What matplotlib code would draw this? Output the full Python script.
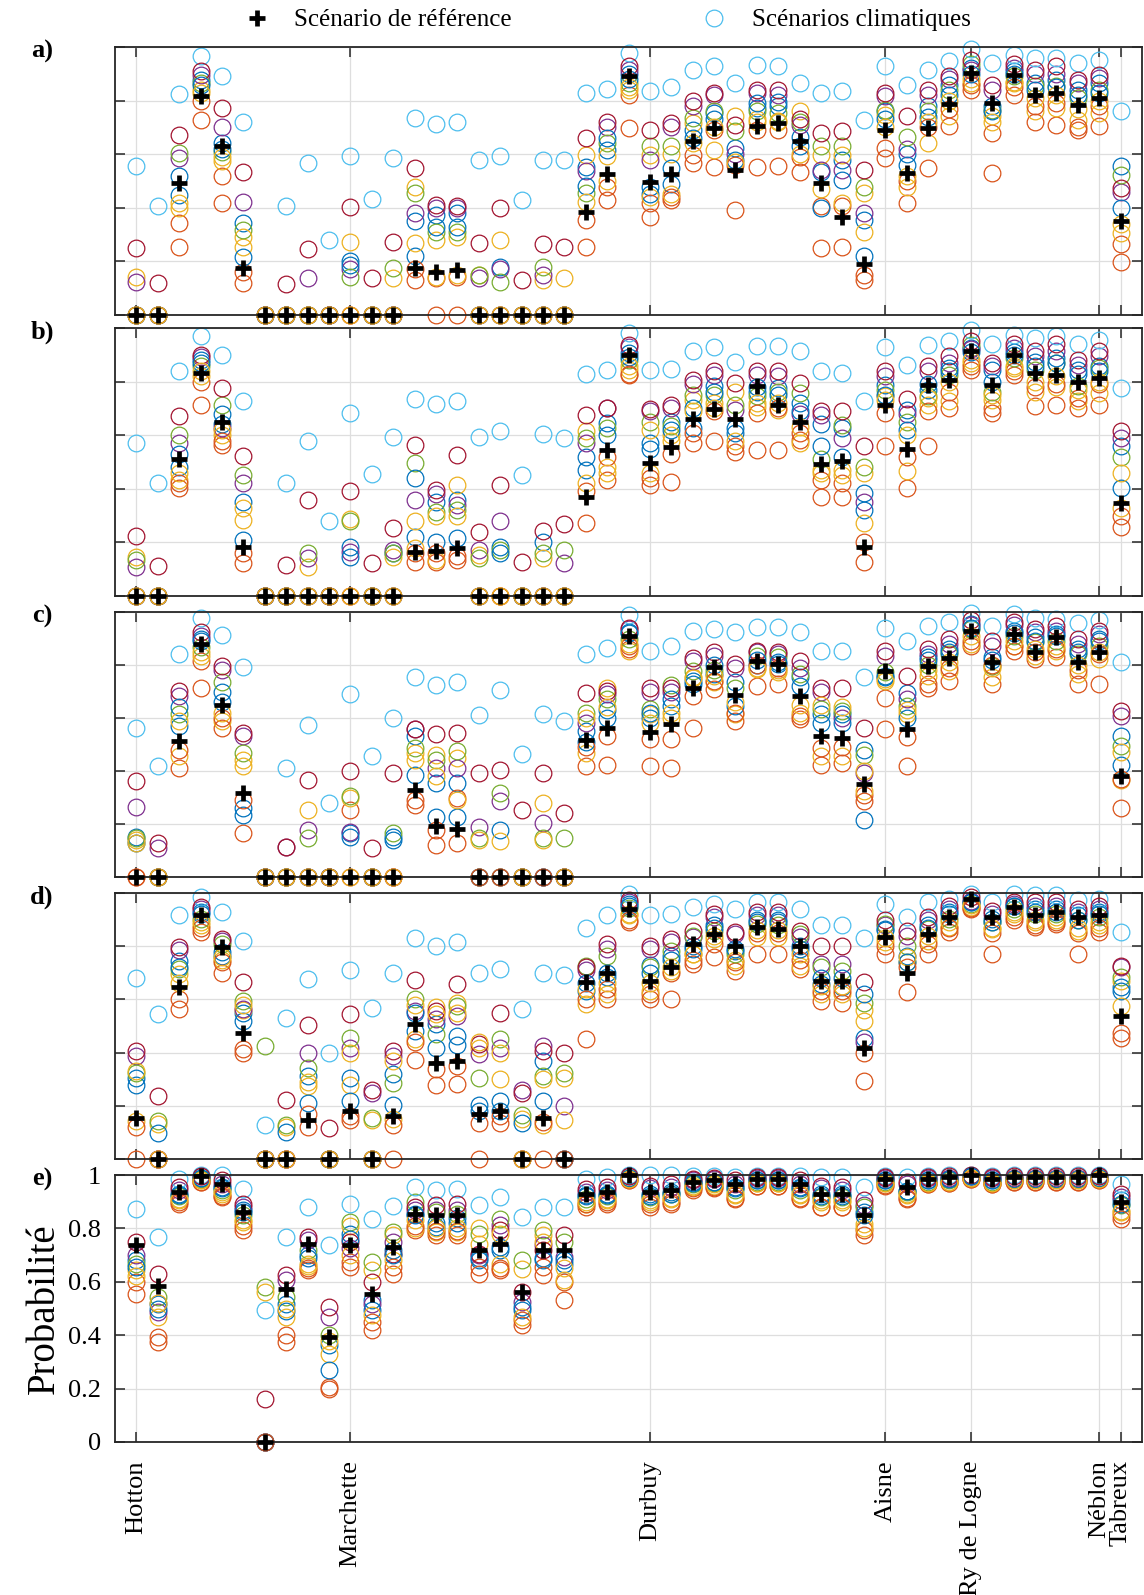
import numpy as np
import matplotlib
matplotlib.use("Agg")
import matplotlib.pyplot as plt
from matplotlib.lines import Line2D

plt.rcParams['font.family'] = ['Liberation Serif', 'DejaVu Serif']

stations = np.arange(1, 48)
tick_pos = [1, 11, 25, 36, 40, 46, 47]
tick_labels = ["Hotton", "Marchette", "Durbuy", "Aisne", "Ry de Logne", "Néblon", "Tabreux"]
yticks = [0, 0.2, 0.4, 0.6, 0.8, 1]
ytick_labels = ["0", "0.2", "0.4", "0.6", "0.8", "1"]
panel_names = ["a)", "b)", "c)", "d)", "e)"]
legend_labels = ["Scénario de référence", "Scénarios climatiques"]
ylabel_text = "Probabilité"

# MATLAB default colour order, cycling for 10 climate scenarios
scen_colors = [(0, 0.447, 0.741), (0.85, 0.325, 0.098), (0.929, 0.694, 0.125),
               (0.494, 0.184, 0.556), (0.466, 0.674, 0.188), (0.301, 0.745, 0.933),
               (0.635, 0.078, 0.184), (0, 0.447, 0.741), (0.85, 0.325, 0.098),
               (0.929, 0.694, 0.125)]

# ---------------- panel a ----------------
ref_a = [0, 0, 0.494, 0.816, 0.631, 0.174, 0, 0, 0, 0, 0, 0, 0, 0.174, 0.159, 0.168, 0, 0, 0, 0, 0,
         0.386, 0.527, 0.89, 0.498, 0.527, 0.651, 0.697, 0.542, 0.706, 0.716, 0.648, 0.494, 0.367,
         0.19, 0.691, 0.529, 0.697, 0.788, 0.903, 0.791, 0.897, 0.822, 0.828, 0.785, 0.81, 0.349]
scen_a = [
    [0, 0, 0.143, 0.125, 0, 0.557, 0.249, 0, 0, 0],
    [0, 0, 0, 0, 0, 0.408, 0.121, 0, 0, 0],
    [0.448, 0.345, 0.417, 0.585, 0.604, 0.826, 0.672, 0.52, 0.253, 0.40],
    [0.878, 0.797, 0.84, 0.897, 0.866, 0.968, 0.91, 0.86, 0.729, 0.83],
    [0.64, 0.517, 0.573, 0.70, 0.61, 0.893, 0.772, 0.62, 0.417, 0.59],
    [0.342, 0.162, 0.255, 0.42, 0.318, 0.722, 0.533, 0.218, 0.118, 0.29],
    [0, 0, 0, 0, 0, 0, 0, 0, 0, 0],
    [0, 0, 0, 0, 0, 0.408, 0.115, 0, 0, 0],
    [0, 0, 0, 0.137, 0, 0.567, 0.245, 0, 0, 0],
    [0, 0, 0, 0, 0, 0.28, 0, 0, 0, 0],
    [0.2, 0, 0.274, 0.17, 0.143, 0.592, 0.402, 0.185, 0, 0],
    [0, 0, 0, 0, 0, 0.432, 0.139, 0, 0, 0],
    [0, 0, 0.137, 0, 0.174, 0.585, 0.271, 0, 0, 0],
    [0.349, 0.131, 0.479, 0.38, 0.455, 0.735, 0.55, 0.22, 0.17, 0.27],
    [0.374, 0, 0.28, 0.40, 0.311, 0.714, 0.41, 0.33, 0.137, 0.14],
    [0.38, 0, 0.29, 0.40, 0.311, 0.722, 0.405, 0.33, 0.14, 0.15],
    [0, 0, 0.149, 0.137, 0.149, 0.579, 0.268, 0, 0, 0],
    [0.18, 0, 0.28, 0.17, 0.125, 0.594, 0.398, 0, 0, 0],
    [0, 0, 0, 0, 0, 0.43, 0.131, 0, 0, 0],
    [0, 0, 0.13, 0.149, 0.18, 0.579, 0.264, 0, 0, 0],
    [0, 0, 0.137, 0, 0, 0.577, 0.255, 0, 0, 0],
    [0.554, 0.355, 0.598, 0.536, 0.455, 0.828, 0.662, 0.48, 0.253, 0.42],
    [0.616, 0.479, 0.592, 0.703, 0.641, 0.843, 0.722, 0.66, 0.43, 0.50],
    [0.90, 0.822, 0.84, 0.915, 0.866, 0.978, 0.928, 0.88, 0.697, 0.85],
    [0.479, 0.417, 0.598, 0.58, 0.629, 0.834, 0.691, 0.45, 0.367, 0.44],
    [0.49, 0.44, 0.60, 0.70, 0.629, 0.85, 0.716, 0.55, 0.43, 0.45],
    [0.69, 0.598, 0.716, 0.78, 0.735, 0.913, 0.797, 0.66, 0.567, 0.64],
    [0.753, 0.554, 0.616, 0.82, 0.76, 0.93, 0.828, 0.73, 0.69, 0.70],
    [0.623, 0.392, 0.741, 0.60, 0.685, 0.866, 0.71, 0.58, 0.56, 0.57],
    [0.772, 0.554, 0.73, 0.83, 0.76, 0.934, 0.84, 0.79, 0.69, 0.72],
    [0.78, 0.557, 0.725, 0.82, 0.755, 0.93, 0.84, 0.795, 0.69, 0.72],
    [0.665, 0.59, 0.76, 0.71, 0.72, 0.866, 0.73, 0.63, 0.535, 0.60],
    [0.535, 0.405, 0.598, 0.54, 0.629, 0.83, 0.679, 0.40, 0.249, 0.47],
    [0.579, 0.405, 0.598, 0.542, 0.629, 0.834, 0.685, 0.504, 0.253, 0.417],
    [0.355, 0.131, 0.455, 0.38, 0.479, 0.728, 0.542, 0.22, 0.15, 0.31],
    [0.76, 0.623, 0.747, 0.816, 0.766, 0.928, 0.828, 0.73, 0.585, 0.70],
    [0.60, 0.417, 0.479, 0.62, 0.666, 0.859, 0.741, 0.56, 0.50, 0.52],
    [0.78, 0.548, 0.641, 0.82, 0.76, 0.913, 0.84, 0.74, 0.70, 0.72],
    [0.86, 0.704, 0.741, 0.88, 0.84, 0.946, 0.89, 0.82, 0.77, 0.80],
    [0.92, 0.84, 0.866, 0.915, 0.935, 0.993, 0.953, 0.90, 0.86, 0.88],
    [0.78, 0.679, 0.741, 0.84, 0.766, 0.94, 0.859, 0.76, 0.529, 0.72],
    [0.91, 0.822, 0.866, 0.92, 0.89, 0.971, 0.935, 0.90, 0.85, 0.87],
    [0.866, 0.722, 0.76, 0.90, 0.853, 0.959, 0.915, 0.84, 0.78, 0.81],
    [0.878, 0.71, 0.772, 0.90, 0.853, 0.959, 0.928, 0.85, 0.79, 0.82],
    [0.84, 0.691, 0.729, 0.866, 0.81, 0.94, 0.878, 0.82, 0.70, 0.77],
    [0.866, 0.706, 0.753, 0.885, 0.84, 0.95, 0.897, 0.83, 0.78, 0.80],
    [0.557, 0.265, 0.305, 0.46, 0.523, 0.76, 0.473, 0.40, 0.196, 0.34],
]

# ---------------- panel b ----------------
ref_b = [0, 0, 0.511, 0.832, 0.651, 0.184, 0, 0, 0, 0, 0, 0, 0, 0.166, 0.168, 0.178, 0, 0, 0, 0, 0,
         0.371, 0.543, 0.90, 0.496, 0.555, 0.66, 0.697, 0.66, 0.785, 0.714, 0.651, 0.493, 0.502,
         0.184, 0.714, 0.548, 0.788, 0.807, 0.913, 0.788, 0.90, 0.832, 0.826, 0.80, 0.813, 0.346]
scen_b = [
    [0, 0, 0.147, 0.11, 0.135, 0.57, 0.224, 0, 0, 0],
    [0, 0, 0, 0, 0, 0.423, 0.112, 0, 0, 0],
    [0.483, 0.402, 0.433, 0.57, 0.60, 0.838, 0.672, 0.53, 0.42, 0.46],
    [0.88, 0.80, 0.82, 0.893, 0.86, 0.969, 0.90, 0.87, 0.714, 0.84],
    [0.64, 0.564, 0.60, 0.626, 0.714, 0.90, 0.776, 0.68, 0.58, 0.62],
    [0.352, 0.122, 0.284, 0.421, 0.452, 0.726, 0.523, 0.209, 0.16, 0.33],
    [0, 0, 0, 0, 0, 0, 0, 0, 0, 0],
    [0, 0, 0, 0, 0, 0.421, 0.116, 0, 0, 0],
    [0, 0, 0.11, 0.14, 0.16, 0.577, 0.359, 0, 0, 0],
    [0, 0, 0, 0, 0, 0.278, 0, 0, 0, 0],
    [0.184, 0, 0.286, 0.166, 0.28, 0.682, 0.39, 0.147, 0, 0],
    [0, 0, 0, 0, 0, 0.456, 0.122, 0, 0, 0],
    [0.16, 0, 0.147, 0.17, 0.16, 0.593, 0.253, 0, 0, 0],
    [0.219, 0.128, 0.28, 0.359, 0.496, 0.736, 0.564, 0.44, 0.16, 0.18],
    [0.352, 0.128, 0.135, 0.38, 0.315, 0.717, 0.396, 0.203, 0.16, 0.30],
    [0.359, 0.134, 0.415, 0.34, 0.321, 0.726, 0.527, 0.215, 0.15, 0.30],
    [0, 0, 0.153, 0.17, 0.14, 0.595, 0.238, 0, 0, 0],
    [0.184, 0, 0, 0.281, 0.172, 0.614, 0.415, 0.16, 0, 0],
    [0, 0, 0, 0, 0, 0.452, 0.128, 0, 0, 0],
    [0.2, 0, 0.14, 0, 0.16, 0.605, 0.244, 0, 0, 0],
    [0, 0, 0, 0.122, 0.172, 0.589, 0.269, 0, 0, 0],
    [0.52, 0.271, 0.614, 0.57, 0.59, 0.829, 0.676, 0.47, 0.39, 0.421],
    [0.645, 0.433, 0.483, 0.70, 0.626, 0.844, 0.701, 0.60, 0.52, 0.46],
    [0.905, 0.826, 0.845, 0.93, 0.88, 0.981, 0.935, 0.89, 0.83, 0.86],
    [0.57, 0.415, 0.458, 0.69, 0.651, 0.842, 0.697, 0.55, 0.44, 0.62],
    [0.65, 0.427, 0.601, 0.70, 0.633, 0.847, 0.714, 0.62, 0.53, 0.58],
    [0.626, 0.57, 0.73, 0.79, 0.751, 0.913, 0.807, 0.70, 0.61, 0.69],
    [0.782, 0.577, 0.72, 0.825, 0.751, 0.929, 0.838, 0.76, 0.69, 0.70],
    [0.626, 0.539, 0.76, 0.695, 0.714, 0.872, 0.795, 0.61, 0.56, 0.577],
    [0.76, 0.545, 0.707, 0.825, 0.745, 0.932, 0.838, 0.78, 0.682, 0.72],
    [0.776, 0.545, 0.695, 0.82, 0.763, 0.932, 0.838, 0.75, 0.70, 0.72],
    [0.72, 0.583, 0.57, 0.68, 0.757, 0.913, 0.795, 0.69, 0.61, 0.63],
    [0.64, 0.371, 0.458, 0.676, 0.51, 0.838, 0.692, 0.56, 0.433, 0.47],
    [0.626, 0.421, 0.452, 0.589, 0.639, 0.832, 0.692, 0.52, 0.371, 0.47],
    [0.383, 0.128, 0.458, 0.352, 0.483, 0.726, 0.558, 0.32, 0.20, 0.271],
    [0.788, 0.558, 0.745, 0.82, 0.77, 0.929, 0.838, 0.75, 0.682, 0.73],
    [0.695, 0.402, 0.465, 0.68, 0.65, 0.863, 0.735, 0.62, 0.52, 0.60],
    [0.77, 0.558, 0.714, 0.838, 0.745, 0.938, 0.857, 0.79, 0.69, 0.74],
    [0.85, 0.70, 0.726, 0.87, 0.826, 0.95, 0.894, 0.84, 0.76, 0.80],
    [0.925, 0.844, 0.869, 0.92, 0.938, 0.994, 0.95, 0.91, 0.86, 0.88],
    [0.844, 0.70, 0.732, 0.857, 0.763, 0.941, 0.869, 0.80, 0.682, 0.75],
    [0.91, 0.826, 0.85, 0.925, 0.888, 0.975, 0.94, 0.90, 0.84, 0.86],
    [0.875, 0.71, 0.763, 0.894, 0.844, 0.963, 0.913, 0.86, 0.78, 0.80],
    [0.888, 0.714, 0.78, 0.913, 0.869, 0.969, 0.94, 0.87, 0.79, 0.82],
    [0.844, 0.70, 0.726, 0.863, 0.782, 0.941, 0.882, 0.83, 0.74, 0.77],
    [0.857, 0.714, 0.757, 0.894, 0.85, 0.956, 0.913, 0.84, 0.79, 0.80],
    [0.558, 0.259, 0.328, 0.589, 0.52, 0.776, 0.614, 0.402, 0.30, 0.458],
]

# ---------------- panel c ----------------
ref_c = [0, 0, 0.513, 0.88, 0.648, 0.316, 0, 0, 0, 0, 0, 0, 0, 0.329, 0.192, 0.18, 0, 0, 0, 0, 0,
         0.516, 0.563, 0.911, 0.547, 0.576, 0.715, 0.791, 0.686, 0.816, 0.804, 0.684, 0.532, 0.525,
         0.352, 0.778, 0.557, 0.797, 0.825, 0.93, 0.81, 0.918, 0.848, 0.905, 0.81, 0.848, 0.38]
scen_c = [
    [0.15, 0, 0.139, 0.266, 0.146, 0.563, 0.361, 0.13, 0, 0.13],
    [0, 0, 0, 0.108, 0, 0.418, 0.127, 0, 0, 0],
    [0.57, 0.411, 0.456, 0.684, 0.614, 0.842, 0.703, 0.64, 0.48, 0.59],
    [0.90, 0.816, 0.835, 0.91, 0.867, 0.977, 0.924, 0.89, 0.715, 0.85],
    [0.70, 0.563, 0.589, 0.78, 0.734, 0.914, 0.797, 0.66, 0.60, 0.62],
    [0.259, 0.165, 0.443, 0.532, 0.468, 0.791, 0.544, 0.234, 0.29, 0.42],
    [0, 0, 0, 0, 0, 0, 0, 0, 0, 0],
    [0, 0, 0, 0.114, 0, 0.411, 0.114, 0, 0, 0],
    [0, 0, 0.253, 0.177, 0.146, 0.572, 0.367, 0, 0, 0],
    [0, 0, 0, 0, 0, 0.278, 0, 0, 0, 0],
    [0.165, 0.253, 0.30, 0.17, 0.304, 0.69, 0.399, 0.15, 0, 0],
    [0, 0, 0, 0, 0, 0.456, 0.108, 0, 0, 0],
    [0.15, 0, 0, 0, 0.165, 0.601, 0.392, 0.14, 0, 0],
    [0.532, 0.291, 0.468, 0.557, 0.487, 0.753, 0.557, 0.386, 0.272, 0.44],
    [0.354, 0.12, 0.462, 0.411, 0.443, 0.724, 0.538, 0.228, 0.177, 0.38],
    [0.354, 0.127, 0.45, 0.411, 0.475, 0.734, 0.544, 0.228, 0.30, 0.29],
    [0, 0, 0, 0.19, 0.146, 0.61, 0.392, 0, 0, 0.14],
    [0.177, 0, 0, 0.285, 0.316, 0.706, 0.405, 0, 0, 0.134],
    [0, 0, 0, 0, 0, 0.466, 0.253, 0, 0, 0],
    [0, 0, 0.278, 0.203, 0.146, 0.614, 0.392, 0, 0, 0.14],
    [0, 0, 0, 0, 0.146, 0.589, 0.241, 0, 0, 0],
    [0.55, 0.418, 0.468, 0.58, 0.62, 0.842, 0.696, 0.51, 0.49, 0.60],
    [0.63, 0.532, 0.715, 0.69, 0.671, 0.863, 0.703, 0.60, 0.424, 0.64],
    [0.925, 0.86, 0.854, 0.935, 0.90, 0.987, 0.94, 0.92, 0.87, 0.88],
    [0.60, 0.519, 0.614, 0.70, 0.633, 0.854, 0.715, 0.62, 0.418, 0.58],
    [0.646, 0.519, 0.60, 0.70, 0.725, 0.873, 0.715, 0.67, 0.411, 0.62],
    [0.74, 0.684, 0.753, 0.816, 0.778, 0.927, 0.825, 0.73, 0.563, 0.75],
    [0.766, 0.709, 0.734, 0.835, 0.78, 0.937, 0.848, 0.80, 0.74, 0.76],
    [0.734, 0.589, 0.614, 0.79, 0.715, 0.924, 0.804, 0.646, 0.62, 0.66],
    [0.80, 0.722, 0.785, 0.848, 0.835, 0.943, 0.854, 0.82, 0.80, 0.79],
    [0.804, 0.728, 0.772, 0.84, 0.829, 0.943, 0.848, 0.81, 0.79, 0.78],
    [0.753, 0.608, 0.62, 0.79, 0.766, 0.924, 0.816, 0.72, 0.595, 0.65],
    [0.614, 0.424, 0.456, 0.70, 0.633, 0.851, 0.715, 0.58, 0.487, 0.65],
    [0.614, 0.43, 0.456, 0.60, 0.627, 0.851, 0.715, 0.58, 0.49, 0.64],
    [0.48, 0.31, 0.323, 0.392, 0.462, 0.753, 0.563, 0.215, 0.285, 0.40],
    [0.753, 0.677, 0.747, 0.835, 0.772, 0.939, 0.854, 0.76, 0.557, 0.74],
    [0.696, 0.418, 0.614, 0.67, 0.646, 0.889, 0.759, 0.60, 0.53, 0.63],
    [0.83, 0.715, 0.76, 0.842, 0.80, 0.947, 0.861, 0.82, 0.73, 0.78],
    [0.861, 0.741, 0.778, 0.88, 0.842, 0.962, 0.899, 0.85, 0.79, 0.81],
    [0.955, 0.873, 0.88, 0.95, 0.937, 0.997, 0.968, 0.94, 0.89, 0.91],
    [0.83, 0.728, 0.753, 0.873, 0.797, 0.949, 0.892, 0.82, 0.80, 0.79],
    [0.93, 0.854, 0.873, 0.95, 0.91, 0.994, 0.962, 0.92, 0.87, 0.89],
    [0.905, 0.823, 0.835, 0.924, 0.886, 0.977, 0.937, 0.89, 0.85, 0.86],
    [0.918, 0.829, 0.854, 0.93, 0.892, 0.975, 0.949, 0.91, 0.86, 0.87],
    [0.861, 0.728, 0.766, 0.88, 0.842, 0.96, 0.899, 0.85, 0.78, 0.80],
    [0.899, 0.728, 0.823, 0.918, 0.873, 0.968, 0.93, 0.89, 0.84, 0.85],
    [0.532, 0.259, 0.367, 0.608, 0.494, 0.81, 0.627, 0.424, 0.37, 0.47],
]

# ---------------- panel d ----------------
ref_d = [0.154, 0, 0.645, 0.916, 0.796, 0.475, 0, 0, 0.147, 0, 0.179, 0, 0.16, 0.506, 0.361, 0.368,
         0.169, 0.179, 0, 0.154, 0, 0.664, 0.698, 0.941, 0.67, 0.72, 0.809, 0.846, 0.802, 0.872,
         0.865, 0.802, 0.67, 0.67, 0.418, 0.834, 0.701, 0.846, 0.909, 0.979, 0.909, 0.947, 0.916,
         0.928, 0.909, 0.916, 0.538]
scen_d = [
    [0.305, 0, 0.141, 0.387, 0.324, 0.68, 0.406, 0.28, 0.12, 0.33],
    [0, 0, 0.13, 0, 0.141, 0.544, 0.236, 0.097, 0, 0],
    [0.746, 0.601, 0.695, 0.784, 0.714, 0.916, 0.796, 0.72, 0.563, 0.66],
    [0.928, 0.853, 0.878, 0.94, 0.903, 0.985, 0.946, 0.92, 0.87, 0.89],
    [0.764, 0.701, 0.75, 0.82, 0.81, 0.928, 0.827, 0.78, 0.74, 0.76],
    [0.55, 0.412, 0.56, 0.563, 0.594, 0.819, 0.667, 0.52, 0.40, 0.58],
    [0, 0, 0, 0, 0.424, 0.128, 0, 0, 0, 0],
    [0, 0, 0.12, 0, 0.128, 0.529, 0.223, 0.103, 0, 0],
    [0.311, 0.122, 0.273, 0.399, 0.343, 0.676, 0.504, 0.21, 0.17, 0.29],
    [0, 0, 0, 0, 0, 0.399, 0.116, 0, 0, 0],
    [0.305, 0.147, 0.28, 0.418, 0.456, 0.71, 0.544, 0.217, 0.16, 0.40],
    [0, 0, 0.147, 0.25, 0.154, 0.569, 0.261, 0, 0, 0],
    [0.204, 0, 0.15, 0.387, 0.286, 0.698, 0.406, 0.32, 0.128, 0.37],
    [0.48, 0.374, 0.45, 0.557, 0.601, 0.831, 0.672, 0.55, 0.44, 0.58],
    [0.506, 0.28, 0.57, 0.525, 0.469, 0.802, 0.557, 0.418, 0.34, 0.545],
    [0.462, 0.282, 0.588, 0.538, 0.575, 0.815, 0.657, 0.43, 0.35, 0.55],
    [0.204, 0, 0.418, 0.393, 0.305, 0.698, 0.431, 0.18, 0.135, 0.44],
    [0.217, 0.135, 0.30, 0.418, 0.45, 0.714, 0.55, 0.18, 0.16, 0.40],
    [0, 0, 0.15, 0.26, 0.166, 0.563, 0.248, 0.135, 0, 0],
    [0.37, 0, 0.128, 0.424, 0.311, 0.701, 0.406, 0.217, 0.14, 0.30],
    [0, 0, 0.305, 0.198, 0.324, 0.693, 0.399, 0, 0, 0.147],
    [0.632, 0.45, 0.582, 0.71, 0.727, 0.869, 0.72, 0.66, 0.60, 0.64],
    [0.683, 0.601, 0.62, 0.79, 0.765, 0.916, 0.809, 0.70, 0.64, 0.66],
    [0.958, 0.89, 0.916, 0.965, 0.945, 0.997, 0.975, 0.95, 0.90, 0.92],
    [0.73, 0.62, 0.632, 0.79, 0.72, 0.916, 0.802, 0.70, 0.601, 0.66],
    [0.765, 0.601, 0.708, 0.815, 0.783, 0.922, 0.827, 0.75, 0.70, 0.72],
    [0.80, 0.733, 0.771, 0.834, 0.84, 0.947, 0.859, 0.79, 0.75, 0.77],
    [0.878, 0.758, 0.827, 0.91, 0.859, 0.96, 0.922, 0.87, 0.81, 0.84],
    [0.783, 0.708, 0.727, 0.846, 0.77, 0.941, 0.853, 0.79, 0.74, 0.75],
    [0.897, 0.771, 0.834, 0.916, 0.884, 0.966, 0.928, 0.89, 0.85, 0.86],
    [0.897, 0.771, 0.834, 0.916, 0.878, 0.966, 0.928, 0.89, 0.85, 0.86],
    [0.80, 0.714, 0.727, 0.834, 0.846, 0.941, 0.859, 0.79, 0.75, 0.77],
    [0.657, 0.594, 0.62, 0.733, 0.72, 0.878, 0.802, 0.68, 0.63, 0.65],
    [0.645, 0.588, 0.62, 0.733, 0.708, 0.878, 0.802, 0.68, 0.63, 0.65],
    [0.456, 0.399, 0.56, 0.44, 0.588, 0.831, 0.664, 0.62, 0.292, 0.519],
    [0.865, 0.771, 0.815, 0.878, 0.884, 0.96, 0.897, 0.86, 0.80, 0.83],
    [0.764, 0.626, 0.74, 0.84, 0.802, 0.909, 0.859, 0.74, 0.72, 0.76],
    [0.878, 0.771, 0.82, 0.897, 0.865, 0.966, 0.91, 0.87, 0.81, 0.84],
    [0.928, 0.853, 0.872, 0.94, 0.903, 0.979, 0.953, 0.92, 0.87, 0.89],
    [0.966, 0.941, 0.947, 0.97, 0.96, 0.997, 0.985, 0.965, 0.945, 0.955],
    [0.903, 0.771, 0.865, 0.922, 0.89, 0.966, 0.934, 0.89, 0.85, 0.87],
    [0.953, 0.897, 0.922, 0.96, 0.94, 0.997, 0.966, 0.95, 0.91, 0.93],
    [0.94, 0.872, 0.89, 0.953, 0.922, 0.991, 0.966, 0.93, 0.88, 0.90],
    [0.94, 0.884, 0.90, 0.953, 0.922, 0.991, 0.966, 0.93, 0.89, 0.91],
    [0.916, 0.771, 0.859, 0.928, 0.897, 0.972, 0.94, 0.90, 0.85, 0.87],
    [0.928, 0.853, 0.878, 0.94, 0.909, 0.979, 0.953, 0.92, 0.87, 0.89],
    [0.645, 0.475, 0.67, 0.72, 0.683, 0.853, 0.727, 0.632, 0.456, 0.576],
]

# ---------------- panel e ----------------
ref_e = [0.737, 0.583, 0.936, 0.995, 0.968, 0.861, 0, 0.574, 0.743, 0.393, 0.737, 0.556, 0.73,
         0.855, 0.849, 0.849, 0.718, 0.743, 0.562, 0.718, 0.718, 0.93, 0.936, 0.999, 0.936, 0.945,
         0.974, 0.98, 0.968, 0.986, 0.986, 0.968, 0.93, 0.93, 0.849, 0.986, 0.955, 0.986, 0.993,
         1.0, 0.986, 0.993, 0.993, 0.993, 0.993, 0.999, 0.899]
scen_e = [
    [0.68, 0.60, 0.643, 0.70, 0.668, 0.874, 0.749, 0.656, 0.556, 0.62],
    [0.518, 0.393, 0.468, 0.487, 0.543, 0.768, 0.63, 0.50, 0.375, 0.52],
    [0.93, 0.893, 0.905, 0.944, 0.92, 0.986, 0.955, 0.925, 0.90, 0.91],
    [0.99, 0.975, 0.98, 0.995, 0.985, 1.0, 0.998, 0.99, 0.975, 0.98],
    [0.955, 0.918, 0.93, 0.968, 0.945, 1.0, 0.98, 0.95, 0.92, 0.935],
    [0.868, 0.793, 0.824, 0.88, 0.85, 0.949, 0.893, 0.86, 0.81, 0.83],
    [0, 0, 0, 0, 0.58, 0.493, 0.162, 0, 0, 0.56],
    [0.518, 0.40, 0.468, 0.605, 0.543, 0.768, 0.624, 0.49, 0.375, 0.50],
    [0.70, 0.643, 0.668, 0.755, 0.718, 0.88, 0.768, 0.69, 0.65, 0.66],
    [0.362, 0.206, 0.331, 0.468, 0.40, 0.737, 0.506, 0.271, 0.20, 0.38],
    [0.78, 0.674, 0.81, 0.725, 0.824, 0.893, 0.75, 0.76, 0.655, 0.70],
    [0.53, 0.418, 0.643, 0.518, 0.674, 0.836, 0.60, 0.493, 0.45, 0.474],
    [0.718, 0.655, 0.774, 0.749, 0.787, 0.883, 0.705, 0.70, 0.63, 0.68],
    [0.855, 0.793, 0.80, 0.868, 0.90, 0.955, 0.88, 0.85, 0.81, 0.83],
    [0.805, 0.774, 0.787, 0.868, 0.861, 0.943, 0.886, 0.82, 0.79, 0.80],
    [0.84, 0.774, 0.787, 0.87, 0.855, 0.949, 0.89, 0.82, 0.79, 0.80],
    [0.68, 0.655, 0.80, 0.70, 0.78, 0.886, 0.705, 0.69, 0.63, 0.74],
    [0.718, 0.643, 0.668, 0.812, 0.836, 0.918, 0.793, 0.73, 0.65, 0.78],
    [0.493, 0.437, 0.649, 0.524, 0.68, 0.843, 0.56, 0.506, 0.456, 0.468],
    [0.68, 0.655, 0.774, 0.737, 0.793, 0.88, 0.718, 0.69, 0.624, 0.75],
    [0.668, 0.60, 0.605, 0.693, 0.749, 0.88, 0.774, 0.68, 0.531, 0.65],
    [0.924, 0.88, 0.893, 0.936, 0.91, 0.986, 0.949, 0.92, 0.89, 0.90],
    [0.93, 0.893, 0.905, 0.944, 0.92, 0.993, 0.955, 0.925, 0.90, 0.91],
    [0.99, 0.98, 0.985, 0.995, 0.99, 1.0, 0.998, 0.99, 0.98, 0.985],
    [0.93, 0.88, 0.90, 0.95, 0.918, 1.0, 0.96, 0.92, 0.89, 0.905],
    [0.935, 0.899, 0.91, 0.955, 0.93, 1.0, 0.965, 0.93, 0.89, 0.915],
    [0.975, 0.943, 0.955, 0.98, 0.965, 0.995, 0.985, 0.97, 0.95, 0.96],
    [0.975, 0.95, 0.96, 0.985, 0.97, 0.995, 0.99, 0.975, 0.955, 0.965],
    [0.955, 0.911, 0.925, 0.968, 0.945, 0.993, 0.98, 0.95, 0.915, 0.93],
    [0.98, 0.96, 0.97, 0.99, 0.975, 0.998, 0.993, 0.98, 0.96, 0.97],
    [0.98, 0.96, 0.97, 0.99, 0.975, 0.998, 0.993, 0.98, 0.96, 0.97],
    [0.955, 0.911, 0.925, 0.965, 0.945, 0.995, 0.98, 0.95, 0.915, 0.93],
    [0.93, 0.88, 0.90, 0.95, 0.918, 0.993, 0.96, 0.92, 0.88, 0.905],
    [0.93, 0.88, 0.90, 0.945, 0.918, 0.993, 0.955, 0.92, 0.88, 0.905],
    [0.861, 0.793, 0.818, 0.886, 0.88, 0.955, 0.905, 0.85, 0.774, 0.80],
    [0.98, 0.961, 0.97, 0.99, 0.975, 0.998, 0.993, 0.98, 0.96, 0.97],
    [0.94, 0.911, 0.925, 0.965, 0.935, 0.993, 0.975, 0.94, 0.915, 0.93],
    [0.98, 0.965, 0.97, 0.99, 0.975, 0.998, 0.993, 0.98, 0.965, 0.97],
    [0.985, 0.97, 0.975, 0.99, 0.98, 1.0, 0.995, 0.985, 0.97, 0.975],
    [0.995, 0.985, 0.99, 0.998, 0.99, 1.0, 1.0, 0.995, 0.985, 0.99],
    [0.98, 0.965, 0.97, 0.99, 0.975, 0.998, 0.993, 0.98, 0.965, 0.97],
    [0.985, 0.975, 0.98, 0.99, 0.985, 1.0, 0.995, 0.985, 0.975, 0.98],
    [0.985, 0.975, 0.98, 0.99, 0.985, 1.0, 0.995, 0.985, 0.975, 0.98],
    [0.985, 0.975, 0.98, 0.99, 0.985, 1.0, 0.995, 0.985, 0.975, 0.98],
    [0.985, 0.975, 0.98, 0.99, 0.985, 1.0, 0.995, 0.985, 0.975, 0.98],
    [0.99, 0.98, 0.985, 0.995, 0.99, 1.0, 0.998, 0.99, 0.98, 0.985],
    [0.905, 0.849, 0.867, 0.918, 0.886, 0.968, 0.93, 0.89, 0.836, 0.86],
]

refs = [ref_a, ref_b, ref_c, ref_d, ref_e]
scens = [scen_a, scen_b, scen_c, scen_d, scen_e]

# ---------------- layout (pixels of the 1144 x 1595 figure) ----------------
W, H = 1144, 1595
panel_px = [(47, 315), (328, 596), (612, 877), (893, 1159), (1175, 1442)]
left_px, right_px = 115, 1142

fig = plt.figure(figsize=(W / 100, H / 100), dpi=100)
axcol = (0.15, 0.15, 0.15)
tick_fs = 19

axes = []
for i, (top, bot) in enumerate(panel_px):
    ax = fig.add_axes([left_px / W, 1 - bot / H, (right_px - left_px) / W, (bot - top) / H])
    axes.append(ax)
    ref = np.array(refs[i])
    sc = np.array(scens[i])
    for j in range(sc.shape[1]):
        ax.plot(stations, sc[:, j], linestyle='none', marker='o', ms=12, mfc='none',
                mec=scen_colors[j], mew=0.9, clip_on=False, zorder=2)
    ax.plot(stations, ref, linestyle='none', marker='+', ms=11, mew=3.4, color='k',
            clip_on=False, zorder=4)
    ax.set_xlim(0, 48)
    ax.set_ylim(0, 1)
    ax.set_xticks(tick_pos)
    ax.set_yticks(yticks)
    ax.grid(True, color=(0.87, 0.87, 0.87), lw=0.9)
    ax.set_axisbelow(True)
    ax.tick_params(direction='in', length=7, width=1.1, top=True, right=True,
                   color=axcol, labelsize=tick_fs, labelcolor='black')
    for sp in ax.spines.values():
        sp.set_color(axcol)
        sp.set_linewidth(1.3)
        sp.set_zorder(3)
    if i < 4:
        ax.tick_params(labelbottom=False, labelleft=False)
    else:
        ax.set_yticklabels(ytick_labels)
        ax.set_xticklabels(tick_labels, rotation=90, va='top', ha='center')
        ax.tick_params(axis='y', pad=10)
        ax.tick_params(axis='x', pad=13)
        ax.set_ylabel(ylabel_text, fontsize=28, labelpad=4)
    fig.text(42 / W, 1 - (top + 4) / H, panel_names[i], fontsize=19, fontweight='bold',
             ha='center', va='center')

handles = [Line2D([], [], linestyle='none', marker='+', ms=11, mew=3.4, color='k'),
           Line2D([], [], linestyle='none', marker='o', ms=12, mfc='none',
                  mec=scen_colors[5], mew=0.9)]
fig.legend(handles, legend_labels, loc='center', bbox_to_anchor=(0.531, 1 - 20 / H), ncol=2,
           frameon=False, fontsize=18, handlelength=1.0, handletextpad=1.0, columnspacing=7.6)

fig.savefig("out.png", dpi=100)
